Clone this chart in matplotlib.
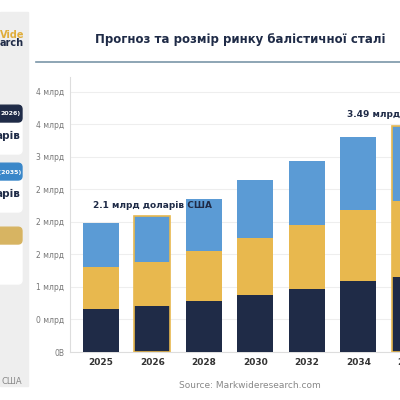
import matplotlib
matplotlib.use("Agg")
import matplotlib.pyplot as plt
from matplotlib.patches import FancyBboxPatch, Rectangle

years = ["2025", "2026", "2028", "2030", "2032", "2034", "2035"]
seg_dark = [0.66, 0.70, 0.78, 0.87, 0.97, 1.09, 1.16]
seg_gold = [0.65, 0.69, 0.78, 0.88, 0.98, 1.10, 1.17]
seg_blue = [0.67, 0.70, 0.79, 0.89, 0.99, 1.11, 1.15]
ytick_vals = [0, 0.5, 1, 1.5, 2, 2.5, 3, 3.5, 4]
ytick_labels = ["0B", "0 млрд", "1 млрд", "2 млрд", "2 млрд", "2 млрд", "3 млрд", "4 млрд", "4 млрд"]

DARK, GOLD, BLUE = "#1f2b47", "#e8b84e", "#5b9bd5"

fig = plt.figure(figsize=(4, 4), dpi=100)
fig.patch.set_facecolor("white")

# left panel
fig.patches.append(Rectangle((0, 0.035), 0.07, 0.935, transform=fig.transFigure, color="#eeeeee", zorder=0))
fig.text(0.0, 0.905, "Vide", color="#e0ad3a", fontsize=7, fontweight="bold", ha="left")
fig.text(0.0, 0.885, "arch", color="#1f2b47", fontsize=7, fontweight="bold", ha="left")
for y0, h, col, head, body in [(0.655, 0.08, DARK, "2026)", "арів"),
                               (0.51, 0.08, "#3a87c9", "г (2035)", "арів"),
                               (0.33, 0.1, "#d7b462", "", "")]:
    fig.patches.append(FancyBboxPatch((-0.02, y0 - 0.04), 0.075, h + 0.04, boxstyle="round,pad=0,rounding_size=0.01",
                                      transform=fig.transFigure, color="white", zorder=1))
    fig.patches.append(FancyBboxPatch((-0.02, y0 + h - 0.04 + 0.0), 0.075, 0.042, boxstyle="round,pad=0,rounding_size=0.01",
                                      transform=fig.transFigure, color=col, zorder=2))
    if head:
        fig.text(0.052, y0 + h - 0.02, head, color="white", fontsize=4.5, fontweight="bold", ha="right", va="center", zorder=3)
        fig.text(0.05, y0 + 0.005, body, color="#1f2b47", fontsize=7.5, fontweight="bold", ha="right", va="center", zorder=3)
fig.text(0.055, 0.045, "США", color="#888888", fontsize=6, ha="right", va="center")

# title
fig.text(0.6, 0.9, "Прогноз та розмір ринку балістичної сталі", fontsize=8.5, fontweight="bold",
         color="#1f2b47", ha="center", va="center")
fig.add_artist(plt.Line2D([0.09, 1.0], [0.845, 0.845], color="#7a96a8", lw=1.2, transform=fig.transFigure))

ax = fig.add_axes([0.175, 0.12, 0.9, 0.6875])
x = list(range(len(years)))
w = 0.7
ax.bar(x, seg_dark, w, color=DARK, zorder=3)
b2 = [d for d in seg_dark]
ax.bar(x, seg_gold, w, bottom=b2, color=GOLD, zorder=3)
b3 = [d + g for d, g in zip(seg_dark, seg_gold)]
ax.bar(x, seg_blue, w, bottom=b3, color=BLUE, zorder=3)
tot = [b + c for b, c in zip(b3, seg_blue)]
for i in (1, 6):
    ax.bar(x[i], tot[i], w, color="none", edgecolor=GOLD, lw=1.2, zorder=4)

ax.text(x[1], tot[1] + 0.1, "2.1 млрд доларів США", ha="center", va="bottom", fontsize=6.5, fontweight="bold", color="#1f2b47")
ax.text(x[6], tot[6] + 0.1, "3.49 млрд доларів США", ha="center", va="bottom", fontsize=6.5, fontweight="bold", color="#1f2b47")

ax.set_xlim(-0.6, 6.39)
ax.set_ylim(0, 4.23)
ax.set_xticks(x)
ax.set_xticklabels(years, fontsize=6.5, fontweight="bold", color="#333333")
ax.set_yticks(ytick_vals)
ax.set_yticklabels(ytick_labels, fontsize=5.5, color="#777777")
ax.tick_params(axis="both", length=0, pad=4)
ax.grid(axis="y", color="#eeeeee", lw=0.8, zorder=0)
for s in ("top", "right"):
    ax.spines[s].set_visible(False)
ax.spines["left"].set_color("#dddddd")
ax.spines["bottom"].set_color("#dddddd")

fig.text(0.625, 0.037, "Source: Markwideresearch.com", fontsize=6.5, color="#888888", ha="center", va="center")

fig.savefig("out.png", dpi=100)
